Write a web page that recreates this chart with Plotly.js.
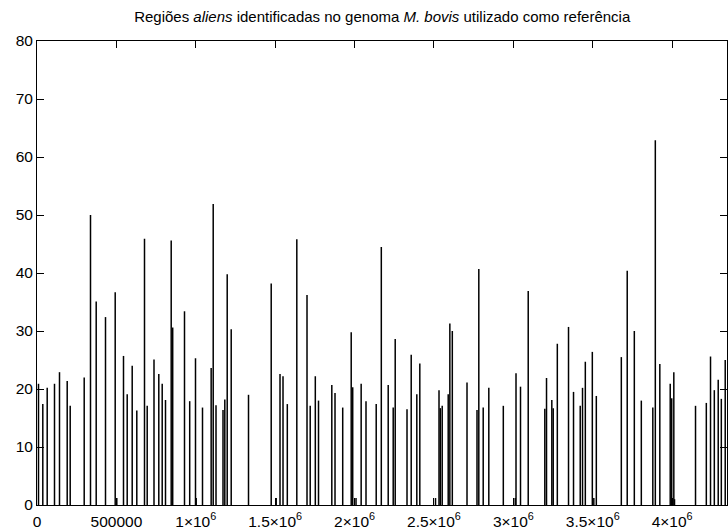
<!DOCTYPE html>
<html>
<head>
<meta charset="utf-8">
<script src="https://cdn.plot.ly/plotly-3.0.1.min.js"></script>
<style>html,body{margin:0;padding:0;background:#fff;}#chart{width:728px;height:529px;}</style>
</head>
<body>
<div id="chart"></div>
<script>
// Genome positions (bp) of the alien regions and their scores
const positions = [9447, 36528, 64240, 110215, 141705, 190200, 209094, 297266, 336943, 372842,
  431413, 492504, 502580, 544777, 568080, 599570, 628540, 677035, 694040, 736866,
  767096, 788510, 809293, 845192, 854640, 928955, 961705, 998233, 1002642, 1042319,
  1096852, 1109708, 1127342, 1171428, 1182764, 1197880, 1223072, 1332027, 1474992, 1506482,
  1530414, 1549308, 1576389, 1636220, 1700460, 1720614, 1752733, 1772887, 1856650, 1876804,
  1925299, 1978832, 1988279, 2009037, 2041527, 2072018, 2136282, 2168401, 2211858, 2243348,
  2255944, 2330260, 2356712, 2391980, 2410874, 2509753, 2531794, 2539983, 2551949, 2589737,
  2600074, 2615560, 2708140, 2771120, 2782456, 2810168, 2845436, 2936757, 3011704, 3016742,
  3045083, 3093582, 3198125, 3208832, 3242210, 3251028, 3276849, 3347387, 3378877, 3421074,
  3435559, 3453193, 3497279, 3506726, 3522471, 3679921, 3717080, 3761795, 3805881, 3878308,
  3894053, 3922394, 3987894, 3997341, 4010566, 4014975, 4147233, 4215251, 4241703, 4265635,
  4290197, 4309721, 4334284];
const scores = [20.9, 17.4, 20.2, 20.9, 22.9, 21.4, 17.1, 22.0, 50.0, 35.1,
  32.4, 36.7, 1.2, 25.7, 19.1, 24.0, 16.3, 45.9, 17.1, 25.1,
  22.6, 20.9, 18.1, 45.6, 30.6, 33.4, 17.9, 25.3, 1.2, 16.8,
  23.6, 51.9, 17.2, 16.4, 18.2, 39.8, 30.3, 19.0, 38.2, 1.2,
  22.6, 22.2, 17.4, 45.8, 36.2, 17.1, 22.2, 18.0, 20.7, 19.3,
  16.8, 29.8, 20.3, 1.2, 20.9, 17.9, 17.4, 44.5, 20.7, 16.8,
  28.6, 16.5, 25.9, 19.1, 24.4, 1.2, 19.8, 16.7, 17.1, 19.1,
  31.3, 30.0, 21.1, 16.4, 40.7, 16.8, 20.2, 17.1, 1.2, 22.7,
  20.4, 36.9, 16.6, 21.9, 18.1, 16.7, 27.8, 30.7, 19.5, 17.1,
  20.2, 24.7, 26.4, 1.2, 18.8, 25.5, 40.4, 30.0, 18.0, 16.8,
  62.9, 24.3, 20.9, 18.4, 22.9, 1.0, 17.1, 17.6, 25.6, 19.8,
  21.6, 18.3, 25.0];
const genomeLength = 4345492;
const xTickVals = [0, 500000, 1000000, 1500000, 2000000, 2500000, 3000000, 3500000, 4000000];
const xTickText = ['0', '500000', '1×10<sup>6</sup>', '1.5×10<sup>6</sup>', '2×10<sup>6</sup>',
  '2.5×10<sup>6</sup>', '3×10<sup>6</sup>', '3.5×10<sup>6</sup>', '4×10<sup>6</sup>'];
const yTickVals = [0, 10, 20, 30, 40, 50, 60, 70, 80];

// impulses: vertical segments from 0 to each score
const xs = [], ys = [];
positions.forEach((p, i) => { xs.push(p, p, null); ys.push(0, scores[i], null); });

const font = {family: 'Liberation Sans, Arial, sans-serif', size: 15.5, color: '#000'};
Plotly.newPlot('chart', [{
  type: 'scatter', mode: 'lines', x: xs, y: ys,
  line: {color: '#000', width: 1.5}, hoverinfo: 'skip', showlegend: false
}], {
  width: 728, height: 529,
  margin: {l: 37, r: 1, t: 41, b: 24, pad: 0},
  paper_bgcolor: '#fff', plot_bgcolor: '#fff',
  font: font,
  title: {text: 'Regiões <i>aliens</i> identificadas no genoma <i>M. bovis</i> utilizado como referência',
    x: 0.525, xanchor: 'center', y: 0.968, yanchor: 'middle', font: {family: font.family, size: 15, color: '#000'}},
  xaxis: {range: [0, genomeLength], tickvals: xTickVals, ticktext: xTickText,
    ticks: 'inside', ticklen: 7, tickwidth: 1, tickcolor: '#000',
    showline: true, mirror: 'ticks', linecolor: '#000', linewidth: 1,
    showgrid: false, zeroline: false, tickfont: font, ticklabelstandoff: 2},
  yaxis: {range: [0, 80], tickvals: yTickVals,
    ticks: 'inside', ticklen: 7, tickwidth: 1, tickcolor: '#000',
    showline: true, mirror: 'ticks', linecolor: '#000', linewidth: 1,
    showgrid: false, zeroline: false, tickfont: font}
}, {displayModeBar: false, staticPlot: true});
</script>
</body>
</html>
